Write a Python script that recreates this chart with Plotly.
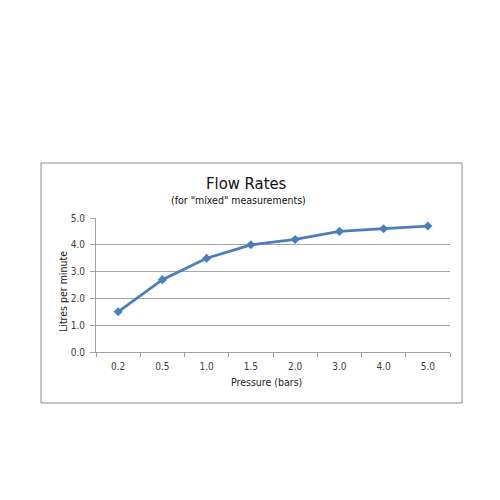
import plotly.graph_objects as go

pressure = ["0.2", "0.5", "1.0", "1.5", "2.0", "3.0", "4.0", "5.0"]
flow = [1.5, 2.7, 3.5, 4.0, 4.2, 4.5, 4.6, 4.7]
y_ticks = [0, 1, 2, 3, 4, 5]
y_tick_labels = ["0.0", "1.0", "2.0", "3.0", "4.0", "5.0"]

W, H = 500, 500
L, R, T, B = 96, 450, 218, 352

def px(x):
    return (x - L) / (R - L)

def py(y):
    return (B - y) / (B - T)

fig = go.Figure()
fig.add_trace(go.Scatter(
    x=pressure, y=flow, mode="lines+markers",
    line=dict(color="#4A7EBB", width=2.8),
    marker=dict(symbol="diamond", size=7, color="#4A7EBB"),
    showlegend=False, cliponaxis=False,
))

font = "DejaVu Sans Condensed, DejaVu Sans, sans-serif"
fig.update_layout(
    width=W, height=H,
    margin=dict(l=L, r=W - R, t=T, b=H - B, pad=0),
    paper_bgcolor="white", plot_bgcolor="white",
    font=dict(family=font, color="#404040", size=9),
    xaxis=dict(
        type="category", range=[-0.5, 7.5],
        showgrid=False, showline=True, linecolor="#A0A0A0", linewidth=1,
        ticks="outside", tickson="boundaries", ticklen=4, tickcolor="#A0A0A0",
        tickfont=dict(size=10, color="#404040"), ticklabelstandoff=5,
        zeroline=False, fixedrange=True,
    ),
    yaxis=dict(
        range=[0, 5], tickvals=y_ticks, ticktext=y_tick_labels,
        showgrid=True, gridcolor="#A6A6A6", gridwidth=1,
        showline=True, linecolor="#A0A0A0", linewidth=1,
        ticks="outside", ticklen=5, tickcolor="#A0A0A0",
        tickfont=dict(size=10, color="#404040"), ticklabelstandoff=3,
        zeroline=False, fixedrange=True,
    ),
    shapes=[dict(type="rect", xref="paper", yref="paper",
                 x0=px(41), x1=px(462), y0=py(403), y1=py(163),
                 line=dict(color="#8C8C8C", width=1), fillcolor="rgba(0,0,0,0)", layer="below")],
    annotations=[
        dict(text="Flow Rates", xref="paper", yref="paper", showarrow=False,
             x=px(246.5), y=py(183), xanchor="center", yanchor="middle",
             font=dict(size=16.5, color="#111111", family=font)),
        dict(text='(for "mixed" measurements)', xref="paper", yref="paper", showarrow=False,
             x=px(238.5), y=py(199.5), xanchor="center", yanchor="middle",
             font=dict(size=10.5, color="#111111", family=font)),
        dict(text="Pressure (bars)", xref="paper", yref="paper", showarrow=False,
             x=px(266), y=py(382), xanchor="center", yanchor="middle",
             font=dict(size=10.5, color="#222222", family=font)),
        dict(text="Litres per minute", xref="paper", yref="paper", showarrow=False,
             x=px(63), y=py(292), xanchor="center", yanchor="middle", textangle=-90,
             font=dict(size=10.5, color="#222222", family=font)),
    ],
)

fig.write_html("out.html")
